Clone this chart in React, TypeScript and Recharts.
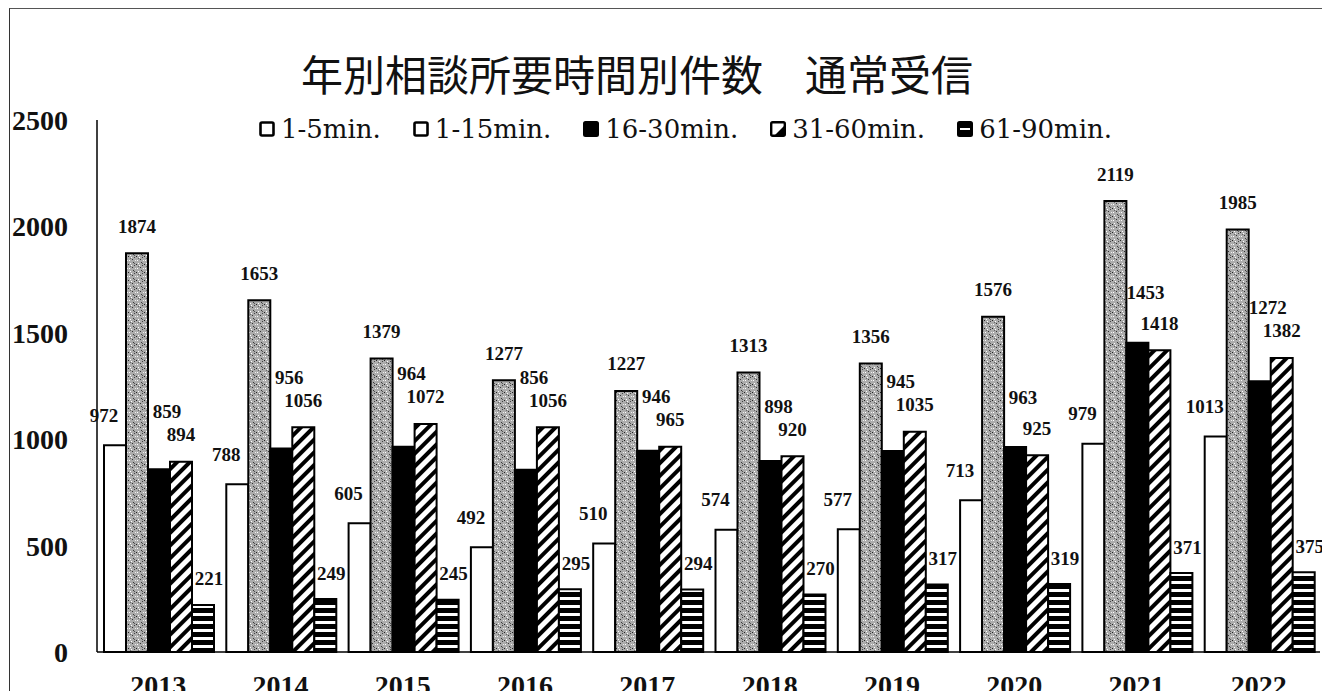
import React from 'react';
import { BarChart, Bar, XAxis, YAxis, LabelList } from 'recharts';

const years = ['2013', '2014', '2015', '2016', '2017', '2018', '2019', '2020', '2021', '2022'];
const min1to5 = [972, 788, 605, 492, 510, 574, 577, 713, 979, 1013];
const min1to15 = [1874, 1653, 1379, 1277, 1227, 1313, 1356, 1576, 2119, 1985];
const min16to30 = [859, 956, 964, 856, 946, 898, 945, 963, 1453, 1272];
const min31to60 = [894, 1056, 1072, 1056, 965, 920, 1035, 925, 1418, 1382];
const min61to90 = [221, 249, 245, 295, 294, 270, 317, 319, 371, 375];
const yTicks = [0, 500, 1000, 1500, 2000, 2500];

const data = years.map((year, i) => ({
  year,
  a: min1to5[i],
  b: min1to15[i],
  c: min16to30[i],
  d: min31to60[i],
  e: min61to90[i],
}));

const numFont = '"Liberation Serif", serif';

const labelText = (x: number, y: number, value: any) => (
  <text
    x={x}
    y={y}
    textAnchor="middle"
    dominantBaseline="central"
    fontFamily={numFont}
    fontWeight="bold"
    fontSize={19}
    fill="#111"
  >
    {value}
  </text>
);

// label drawn relative to the bar centre, shifted like the hand-placed excel labels
const makeLabel = (dx: number, dy: number) => (props: any) => {
  const x = Number(props.x);
  const y = Number(props.y);
  const w = Number(props.width);
  return labelText(x + w / 2 + dx, y + dy, props.value);
};

// the 16-30 labels sit above the 31-60 label when that bar is taller
const blackLabel = (props: any) => {
  const x = Number(props.x);
  const y = Number(props.y);
  const w = Number(props.width);
  const h = Number(props.height);
  const v = Number(props.value);
  const perUnit = v ? h / v : 0;
  const nextTop = y + h - min31to60[props.index] * perUnit;
  return labelText(x + w / 2 + 8, Math.min(y, nextTop) - 50, props.value);
};

const legendItems = [
  { key: 'a', label: '1-5min.' },
  { key: 'b', label: '1-15min.' },
  { key: 'c', label: '16-30min.' },
  { key: 'd', label: '31-60min.' },
  { key: 'e', label: '61-90min.' },
];

function LegendIcon({ kind }: { kind: string }) {
  return (
    <svg width={16} height={16} style={{ marginRight: 6 }}>
      {kind === 'c' ? (
        <rect x={1} y={1} width={14} height={14} rx={1.5} fill="#000" stroke="#000" strokeWidth={2} />
      ) : kind === 'd' ? (
        <g>
          <rect x={1.2} y={1.2} width={13.6} height={13.6} rx={1.5} fill="#fff" stroke="#000" strokeWidth={2.4} />
          <path d="M4 15 L15 4 L15 15 Z" fill="#000" />
        </g>
      ) : kind === 'e' ? (
        <g>
          <rect x={1} y={1} width={14} height={14} rx={1.5} fill="#000" stroke="#000" strokeWidth={2} />
          <rect x={3} y={7} width={10} height={2} fill="#fff" />
        </g>
      ) : (
        <rect x={1.5} y={1.5} width={13} height={13} rx={1.5} fill="#fff" stroke="#000" strokeWidth={2.6} />
      )}
    </svg>
  );
}

export default function App() {
  return (
    <div style={{ position: 'absolute', left: 0, top: 0, width: 1322, height: 691, background: '#fff', overflow: 'hidden' }}>
      <div style={{ position: 'absolute', left: 9, top: 8, width: 1313, height: 683, borderTop: '1px solid #555', borderLeft: '1.5px solid #333' }} />
      <div
        style={{
          position: 'absolute',
          left: 0,
          top: 52,
          width: 1274,
          textAlign: 'center',
          fontFamily: '"Noto Sans CJK JP", sans-serif',
          fontSize: 42,
          lineHeight: 1,
          color: '#111',
        }}
      >
        年別相談所要時間別件数　通常受信
      </div>
      <div
        style={{
          position: 'absolute',
          left: 259,
          top: 116,
          display: 'flex',
          alignItems: 'center',
          gap: 32,
          fontFamily: '"DejaVu Serif", serif',
          fontSize: 26,
          lineHeight: 1,
          color: '#111',
          zIndex: 2,
        }}
      >
        {legendItems.map((it) => (
          <div key={it.key} style={{ display: 'flex', alignItems: 'center' }}>
            <LegendIcon kind={it.key} />
            <span>{it.label}</span>
          </div>
        ))}
      </div>
      <BarChart
        width={1322}
        height={691}
        data={data}
        margin={{ top: 120, right: 2, bottom: 0, left: 0 }}
        barCategoryGap={7}
        barGap={0}
      >
        <defs>
          <pattern id="stipple" width={8} height={8} patternUnits="userSpaceOnUse">
            <rect width={8} height={8} fill="#acacac" />
            <rect x={0} y={0} width={1} height={1} fill="#222" />
            <rect x={3} y={1} width={1} height={1} fill="#fff" />
            <rect x={6} y={1} width={1} height={1} fill="#444" />
            <rect x={4} y={3} width={1} height={1} fill="#333" />
            <rect x={1} y={4} width={1} height={1} fill="#fff" />
            <rect x={2} y={2} width={1} height={1} fill="#666" />
            <rect x={7} y={4} width={1} height={1} fill="#eee" />
            <rect x={5} y={6} width={1} height={1} fill="#3a3a3a" />
            <rect x={2} y={7} width={1} height={1} fill="#fff" />
            <rect x={6} y={7} width={1} height={1} fill="#555" />
          </pattern>
          <pattern id="diag" width={9} height={9} patternUnits="userSpaceOnUse" patternTransform="rotate(45)">
            <rect width={9} height={9} fill="#fff" />
            <rect x={0} y={0} width={4} height={9} fill="#000" />
          </pattern>
          <pattern id="horiz" width={8} height={8} patternUnits="userSpaceOnUse">
            <rect width={8} height={8} fill="#000" />
            <rect x={0} y={5} width={8} height={3} fill="#fff" />
          </pattern>
        </defs>
        <XAxis
          dataKey="year"
          height={39}
          tickLine={false}
          tickSize={0}
          tickMargin={23}
          axisLine={{ stroke: '#000', strokeWidth: 1.5 }}
          tick={{ fontFamily: numFont, fontWeight: 'bold', fontSize: 28, fill: '#111' }}
        />
        <YAxis
          width={97}
          domain={[0, 2500]}
          ticks={yTicks}
          tickLine={false}
          tickSize={0}
          tickMargin={29}
          axisLine={{ stroke: '#000', strokeWidth: 1.5 }}
          tick={{ fontFamily: numFont, fontWeight: 'bold', fontSize: 28, fill: '#111' }}
        />
        <Bar dataKey="a" fill="#fff" stroke="#000" strokeWidth={2} isAnimationActive={false}>
          <LabelList dataKey="a" content={makeLabel(-11, -30)} />
        </Bar>
        <Bar dataKey="b" fill="url(#stipple)" stroke="#000" strokeWidth={2} isAnimationActive={false}>
          <LabelList dataKey="b" content={makeLabel(0, -27)} />
        </Bar>
        <Bar dataKey="c" fill="#000" stroke="#000" strokeWidth={2} isAnimationActive={false}>
          <LabelList dataKey="c" content={blackLabel} />
        </Bar>
        <Bar dataKey="d" fill="url(#diag)" stroke="#000" strokeWidth={2} isAnimationActive={false}>
          <LabelList dataKey="d" content={makeLabel(0, -27)} />
        </Bar>
        <Bar dataKey="e" fill="url(#horiz)" stroke="#000" strokeWidth={2} isAnimationActive={false}>
          <LabelList dataKey="e" content={makeLabel(6, -26)} />
        </Bar>
      </BarChart>
    </div>
  );
}
